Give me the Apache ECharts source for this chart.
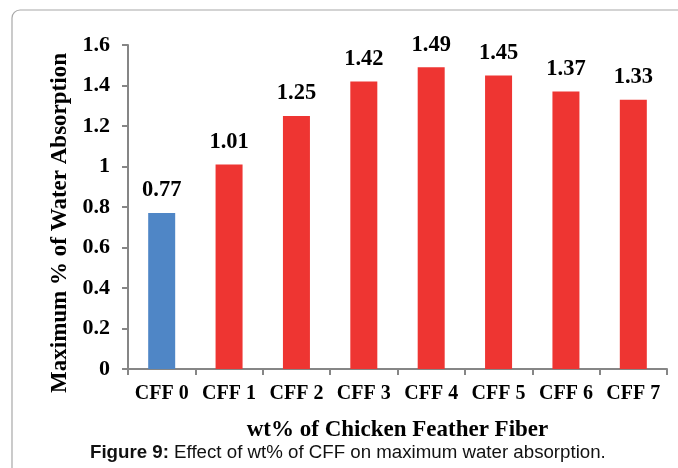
<!DOCTYPE html>
<html><head><meta charset="utf-8">
<script src="https://cdn.jsdelivr.net/npm/echarts@6/dist/echarts.min.js"></script>
<style>html,body{margin:0;padding:0;background:#fff}#c{width:678px;height:468px}</style>
</head><body><div id="c"></div>
<script>
const categories = ['CFF 0','CFF 1','CFF 2','CFF 3','CFF 4','CFF 5','CFF 6','CFF 7'];
const values = [0.77, 1.01, 1.25, 1.42, 1.49, 1.45, 1.37, 1.33];
const barColors = ['#4F86C6','#EE3532','#EE3532','#EE3532','#EE3532','#EE3532','#EE3532','#EE3532'];
const yTicks = {min: 0, max: 1.6, interval: 0.2};
const serif = '"Liberation Serif", "Times New Roman", serif';
const chart = echarts.init(document.getElementById('c'));
chart.setOption({
  animation: false,
  grid: {left: 128, right: 11, top: 45, bottom: 99},
  graphic: [
    {type: 'rect', shape: {x: 12, y: 10, width: 720, height: 520, r: 8}, style: {fill: 'none', stroke: '#a8a8a8', lineWidth: 1.2}, z: -1},
    {type: 'text', left: 90, top: 443, style: {
      text: '{b|Figure 9:} Effect of wt% of CFF on maximum water absorption.',
      font: '18.7px "Liberation Sans", Arial, sans-serif', fill: '#111',
      rich: {b: {fontWeight: 'bold', fontSize: 18.7, fontFamily: '"Liberation Sans", Arial, sans-serif', fill: '#111'}}
    }}
  ],
  xAxis: {
    type: 'category', data: categories,
    name: 'wt% of Chicken Feather Fiber', nameLocation: 'middle', nameGap: 50,
    nameTextStyle: {fontFamily: serif, fontWeight: 'bold', fontSize: 23, color: '#000'},
    axisLine: {lineStyle: {color: '#868686', width: 2}},
    axisTick: {show: true, length: 6, lineStyle: {color: '#868686', width: 2}},
    axisLabel: {interval: 0, fontFamily: serif, fontWeight: 'bold', fontSize: 20, color: '#000', margin: 15}
  },
  yAxis: {
    type: 'value', min: yTicks.min, max: yTicks.max, interval: yTicks.interval,
    name: 'Maximum % of Water Absorption', nameLocation: 'middle', nameGap: 53, nameRotate: 90,
    nameTextStyle: {fontFamily: serif, fontWeight: 'bold', fontSize: 23, color: '#000', padding: [0, 32, 0, 0]},
    axisLine: {show: true, lineStyle: {color: '#868686', width: 2}},
    axisTick: {show: true, length: 6, lineStyle: {color: '#868686', width: 2}},
    splitLine: {show: false},
    axisLabel: {fontFamily: serif, fontWeight: 'bold', fontSize: 22, color: '#000', margin: 18,
      formatter: v => String(Math.round(v * 10) / 10)}
  },
  series: [{
    type: 'bar', barWidth: 27,
    data: values.map((v, i) => ({value: v, itemStyle: {color: barColors[i]}})),
    label: {show: true, position: 'top', distance: 11, fontFamily: serif, fontWeight: 'bold', fontSize: 22.5, color: '#000',
      formatter: p => p.value.toFixed(2)}
  }]
});
</script></body></html>
